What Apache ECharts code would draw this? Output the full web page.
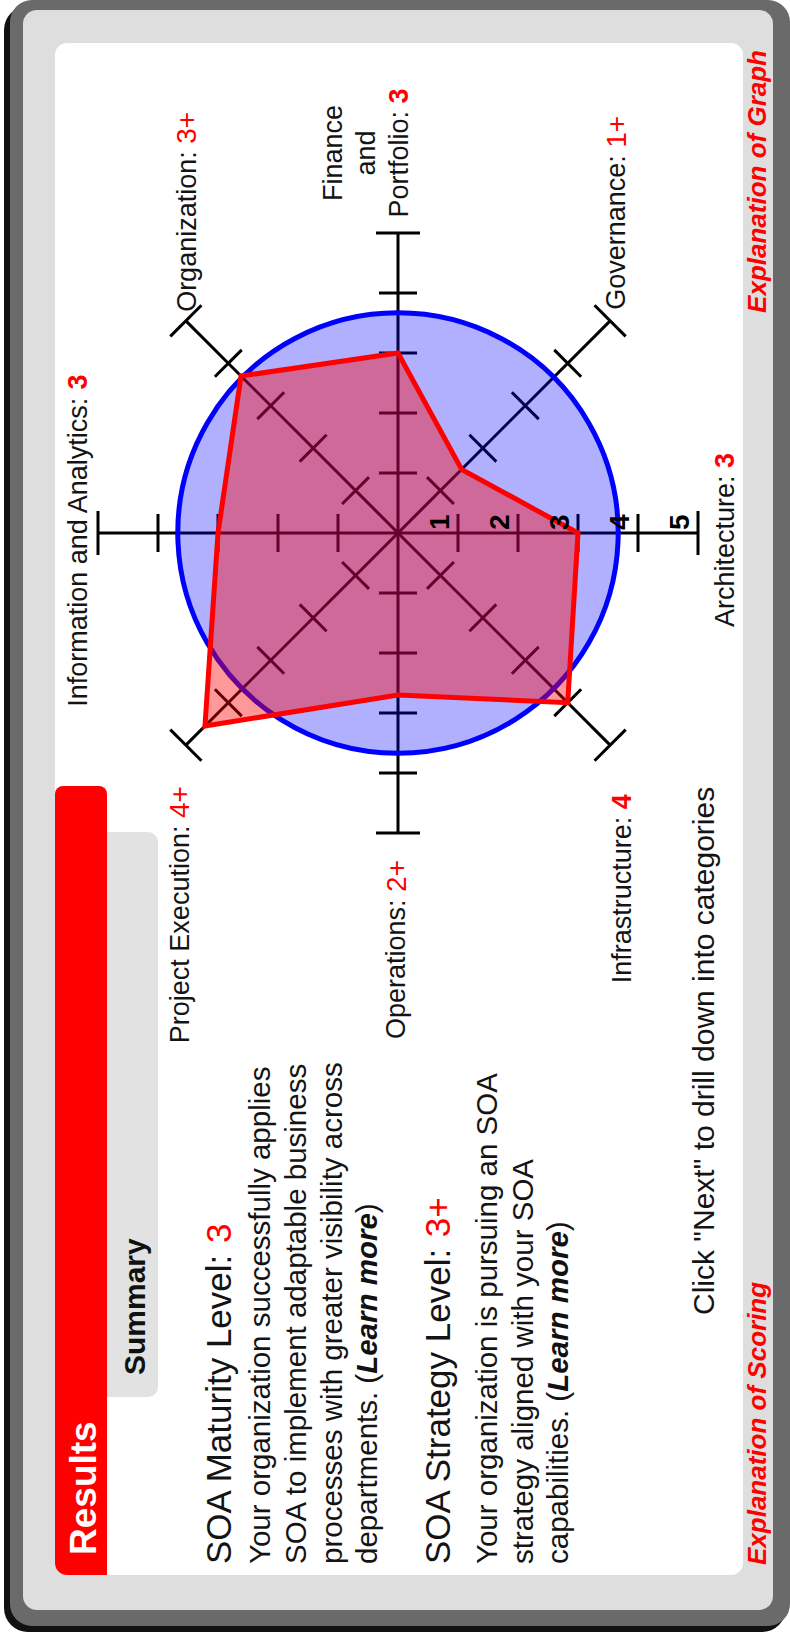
<!DOCTYPE html>
<html><head><meta charset="utf-8">
<script src="https://cdn.jsdelivr.net/npm/echarts@6/dist/echarts.min.js"></script>
<style>
html,body{margin:0;padding:0;width:790px;height:1636px;overflow:hidden;background:#fff;}
#chart{position:absolute;left:0;top:0;width:1636px;height:790px;transform-origin:0 0;transform:translate(0,1636px) rotate(-90deg);}
</style></head><body><div id="chart"></div>
<script>
// ---- data ----
const categories = ['Information and Analytics', 'Organization', 'Finance\nand\nPortfolio', 'Governance', 'Architecture', 'Infrastructure', 'Operations', 'Project Execution'];
const scoreLabels = ['3', '3+', '3', '1+', '3', '4', '2+', '4+'];
const scoreValues = [3, 3.7, 3, 1.5, 3, 4, 2.7, 4.55];
const overallScore = [3.67];
const tickValues = [1, 2, 3, 4, 5];
const tickLabels = ['1', '2', '3', '4', '5'];
const maturityLevel = '3';
const strategyLevel = '3+';

// ---- layout ----
const CX = 1103, CY = 398, R = 300, RMAX = 5;
const FONT = '"Liberation Sans", Arial, Helvetica, sans-serif';
const SX = 1.0;
const angles = categories.map((c, i) => i * 360 / categories.length);

const chart = echarts.init(document.getElementById('chart'), null, {renderer: 'svg'});

function txt(x, y, text, opt) {
  opt = opt || {};
  return {
    type: 'text', x: x, y: y, scaleX: opt.sx || SX, z: 100, silent: true,
    style: {
      text: text, fontSize: opt.size || 24, fontFamily: FONT,
      fontWeight: opt.weight || 'normal', fontStyle: opt.style || 'normal',
      fill: opt.color || '#141414', textAlign: opt.align || 'left',
      textVerticalAlign: opt.valign || 'middle', verticalAlign: opt.valign || 'middle',
      lineHeight: opt.lh, rich: opt.rich
    }
  };
}
function redRich(size, bold) {
  return { r: { fill: '#ff0000', color: '#ff0000', fontSize: size, fontFamily: FONT, fontWeight: bold ? 'bold' : 'normal' },
           b: { fill: '#111', color: '#111', fontSize: size, fontFamily: FONT, fontWeight: 'bold', fontStyle: 'italic' } };
}

const HS = 35, PS = 29.5;
const graphic = [
  {type: 'rect', z: -20, shape: {x: 4, y: 4, width: 1626, height: 782, r: 24}, style: {fill: '#111'}},
  {type: 'rect', z: -19, shape: {x: 10, y: 10, width: 1626, height: 780, r: 22}, style: {fill: '#6a6a6a'}},
  {type: 'rect', z: -18, shape: {x: 26, y: 23, width: 1600, height: 750, r: 14}, style: {fill: '#dedede'}},
  {type: 'rect', z: -17, shape: {x: 61, y: 55, width: 1532, height: 688, r: 12}, style: {fill: '#ffffff'}},
  {type: 'rect', z: -16, shape: {x: 61, y: 55, width: 789, height: 52, r: [12, 8, 8, 0]}, style: {fill: '#ff0000'}},
  {type: 'rect', z: -16, shape: {x: 239, y: 107, width: 565, height: 51, r: [0, 0, 10, 10]}, style: {fill: '#e2e2e2'}},
  txt(81, 83, 'Results', {size: 37, weight: 'bold', color: '#ffffff'}),
  txt(261, 134, 'Summary', {size: 30, weight: 'bold', color: '#111'}),
  txt(72, 218, 'SOA Maturity Level: {r|' + maturityLevel + '}', {size: HS, rich: redRich(HS, false)}),
  txt(72, 259, 'Your organization successfully applies', {size: PS}),
  txt(72, 295, 'SOA to implement adaptable business', {size: PS}),
  txt(72, 331, 'processes with greater visibility across', {size: PS}),
  txt(72, 366, 'departments. ({b|Learn more})', {size: PS, rich: redRich(PS, false)}),
  txt(72, 437, 'SOA Strategy Level: {r|' + strategyLevel + '}', {size: HS, rich: redRich(HS, false)}),
  txt(72, 486, 'Your organization is pursuing an SOA', {size: PS}),
  txt(72, 522, 'strategy aligned with your SOA', {size: PS}),
  txt(72, 557, 'capabilities. ({b|Learn more})', {size: PS, rich: redRich(PS, false)}),
  txt(321, 703, 'Click "Next" to drill down into categories', {size: 30}),
  txt(71, 757, 'Explanation of Scoring', {size: 26, weight: 'bold', style: 'italic', color: '#ff0000'}),
  txt(1586, 757, 'Explanation of Graph', {size: 26, weight: 'bold', style: 'italic', color: '#ff0000', align: 'right'})
];

// category labels around the chart
const LS = 27;
categories.forEach((name, i) => {
  const a = angles[i] * Math.PI / 180;
  const ex = CX + R * Math.sin(a), ey = CY - R * Math.cos(a);
  const plus = scoreLabels[i].indexOf('+') >= 0;
  const label = name + ': {r|' + scoreLabels[i] + '}';
  const rich = redRich(plus ? LS + 1 : LS, !plus);
  let g;
  switch (i) {
    case 0: g = txt(ex - 8, ey - 20, label, {size: LS, align: 'center', rich}); break;
    case 1: g = txt(ex + 9, ey + 1, label, {size: LS, rich}); break;
    case 2: g = txt(ex + 80, ey + 17, label, {size: LS, align: 'center', valign: 'bottom', lh: 33, rich}); break;
    case 3: g = txt(ex + 11, ey + 6, label, {size: LS, rich}); break;
    case 4: g = txt(ex - 7, ey + 27, label, {size: LS, align: 'center', rich}); break;
    case 5: g = txt(ex - 49, ey + 12, label, {size: LS, align: 'right', rich}); break;
    case 6: g = txt(ex - 27, ey - 2, label, {size: LS, align: 'right', rich}); break;
    case 7: g = txt(ex - 41, ey - 6, label, {size: LS, align: 'right', rich}); break;
  }
  graphic.push(g);
});

const option = {
  animation: false,
  backgroundColor: '#ffffff',
  polar: {center: [CX, CY], radius: R},
  angleAxis: {type: 'value', min: 0, max: 360, startAngle: 90, clockwise: true, show: false,
              axisLine: {show: false}, axisTick: {show: false}, axisLabel: {show: false}, splitLine: {show: false}},
  radiusAxis: {type: 'value', min: 0, max: RMAX, show: false,
               axisLine: {show: false}, axisTick: {show: false}, axisLabel: {show: false}, splitLine: {show: false}},
  graphic: graphic,
  series: [
    { // axes with cross ticks
      type: 'custom', coordinateSystem: 'polar', silent: true, z: 1,
      data: angles.map(a => [RMAX, a]),
      renderItem: function (params, api) {
        const a = api.value(1);
        const c = api.coord([0, a]);
        const e = api.coord([api.value(0), a]);
        const dx = e[0] - c[0], dy = e[1] - c[1], L = Math.hypot(dx, dy);
        const px = -dy / L, py = dx / L;
        const children = [{type: 'line', shape: {x1: c[0], y1: c[1], x2: e[0], y2: e[1]}, style: {stroke: '#000', lineWidth: 3}}];
        tickValues.forEach(t => {
          const p = api.coord([t, a]);
          const h = t === RMAX ? 22 : 19;
          children.push({type: 'line', shape: {x1: p[0] - px * h, y1: p[1] - py * h, x2: p[0] + px * h, y2: p[1] + py * h},
                         style: {stroke: '#000', lineWidth: 3}});
        });
        return {type: 'group', children: children};
      }
    },
    { // overall score circle
      type: 'custom', coordinateSystem: 'polar', silent: true, z: 2,
      data: [[overallScore[0], 0]],
      renderItem: function (params, api) {
        const c = api.coord([0, 0]);
        const e = api.coord([api.value(0), 0]);
        return {type: 'circle', shape: {cx: c[0], cy: c[1], r: Math.hypot(e[0] - c[0], e[1] - c[1])},
                style: {fill: 'rgba(0,0,255,0.31)', stroke: '#0000ff', lineWidth: 5}};
      }
    },
    { // score polygon
      type: 'custom', coordinateSystem: 'polar', silent: true, z: 3,
      data: scoreValues.map((v, i) => [v, angles[i]]),
      renderItem: function (params, api) {
        if (params.dataIndex !== 0) return null;
        const pts = scoreValues.map((v, i) => api.coord([v, angles[i]]));
        return {type: 'polygon', shape: {points: pts},
                style: {fill: 'rgba(255,0,0,0.4)', stroke: '#ff0000', lineWidth: 5, lineJoin: 'miter'}};
      }
    },
    { // scale labels along Architecture axis
      type: 'custom', coordinateSystem: 'polar', silent: true, z: 4,
      data: tickValues.map(t => [t, 180]),
      renderItem: function (params, api) {
        const p = api.coord([api.value(0), api.value(1)]);
        return {type: 'text', x: p[0] + 3, y: p[1] - 5,
                style: {text: tickLabels[params.dataIndex], fontSize: 28, fontWeight: 'bold', fontFamily: FONT,
                        fill: '#000', textAlign: 'left', textVerticalAlign: 'bottom', verticalAlign: 'bottom'}};
      }
    }
  ]
};
chart.setOption(option);
</script></body></html>
